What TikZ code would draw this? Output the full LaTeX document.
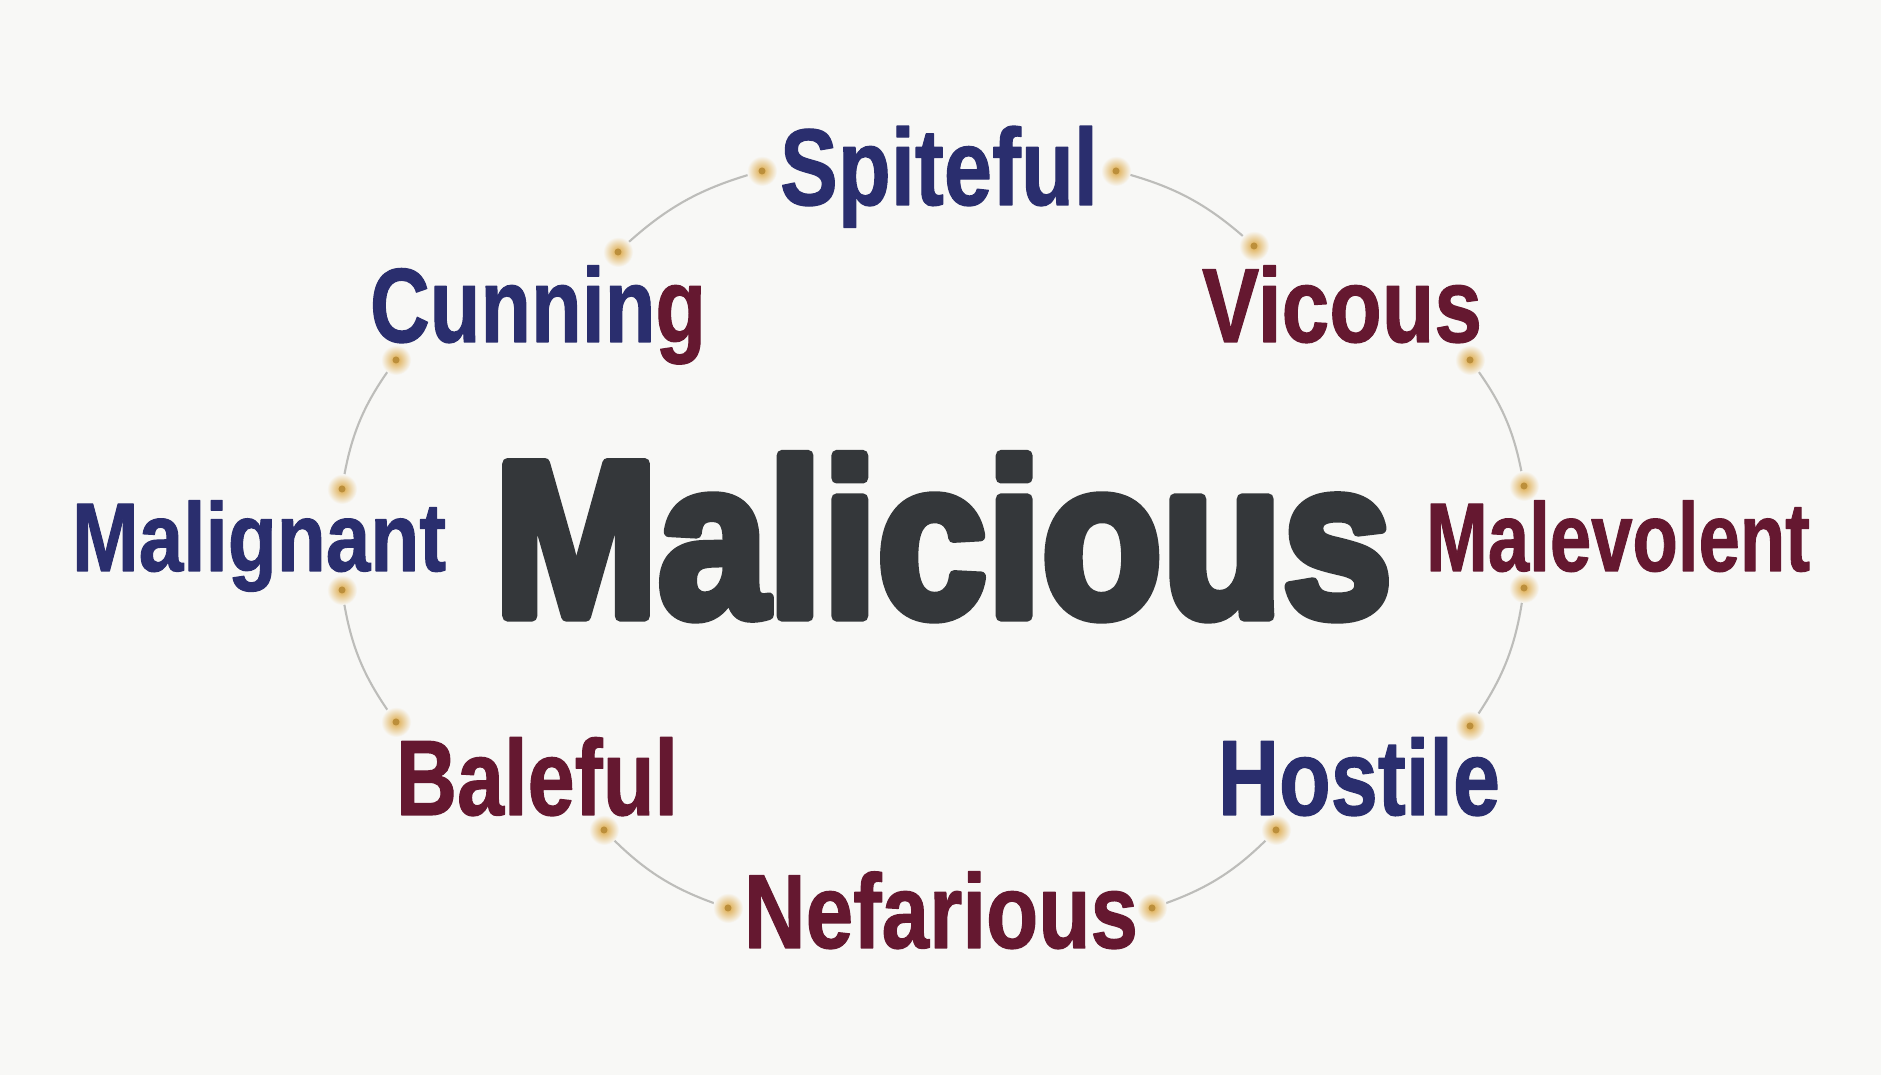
\documentclass[tikz,border=0pt]{standalone}
\usepackage{graphicx}
\usepackage{fontspec}
\usetikzlibrary{backgrounds}
\newfontfamily\wordfont{Liberation Sans}[BoldFeatures={FakeBold=1.2}]
\newfontfamily\headfont{Liberation Sans}[BoldFeatures={FakeBold=5}]
\definecolor{navyc}{HTML}{2A2E6E}
\definecolor{maroonc}{HTML}{651830}
\definecolor{inkc}{HTML}{34373A}
\definecolor{bgc}{HTML}{F8F8F6}
\definecolor{linec}{HTML}{BDBDBA}
\definecolor{sparkc}{HTML}{DDA845}
\newcommand\fitword[2]{\resizebox{#1}{\height}{#2}}

\begin{document}
\begin{tikzpicture}[
  word/.style={anchor=base, inner sep=0pt, line join=round, font=\wordfont\bfseries\fontsize{#1}{#1}\selectfont},
  navyword/.style={word=#1, text=navyc},
  redword/.style={word=#1, text=maroonc},
  spark/.style={circle, inner sep=0pt, minimum size=0.3cm, shading=radial,
    inner color=sparkc, outer color=bgc,
    path picture={\fill[sparkc!85!black] (path picture bounding box.center) circle (0.035);}},
  link/.style={draw=linec, line width=0.6pt}]
  \node[anchor=base, inner sep=0pt, text=inkc, line join=round, miter limit=1,
    font=\headfont\bfseries\fontsize{63}{63}\selectfont]
    (mal) at (9.43,4.59) {\fitword{8.98cm}{Malicious}};
  \node[navyword=31] (spiteful) at (9.39,8.70) {\fitword{3.18cm}{Spiteful}};
  \node[navyword=30] (cunning) at (5.38,7.33) {\fitword{3.36cm}{Cunnin\textcolor{maroonc}{g}}};
  \node[redword=30] (vicous) at (13.42,7.33) {\fitword{2.80cm}{Vicous}};
  \node[navyword=27.7] (malignant) at (2.59,5.04) {\fitword{3.74cm}{Malignant}};
  \node[redword=27.7] (malevolent) at (16.18,5.04) {\fitword{3.84cm}{Malevolent}};
  \node[redword=30.5] (baleful) at (5.37,2.60) {\fitword{2.82cm}{Baleful}};
  \node[navyword=30.5] (hostile) at (13.59,2.60) {\fitword{2.82cm}{Hostile}};
  \node[redword=30] (nefarious) at (9.41,1.27) {\fitword{3.94cm}{Nefarious}};

  \node[spark] (sp1) at (7.62,9.04) {};
  \node[spark] (sp2) at (11.16,9.04) {};
  \node[spark] (cu1) at (6.18,8.23) {};
  \node[spark] (vi1) at (12.54,8.29) {};
  \node[spark] (cu2) at (3.96,7.15) {};
  \node[spark] (vi2) at (14.70,7.15) {};
  \node[spark] (ma1) at (3.42,5.86) {};
  \node[spark] (mv1) at (15.24,5.89) {};
  \node[spark] (ma2) at (3.42,4.85) {};
  \node[spark] (mv2) at (15.24,4.87) {};
  \node[spark] (ba1) at (3.96,3.53) {};
  \node[spark] (ho1) at (14.70,3.49) {};
  \node[spark] (ba2) at (6.04,2.45) {};
  \node[spark] (ho2) at (12.76,2.45) {};
  \node[spark] (ne1) at (7.28,1.67) {};
  \node[spark] (ne2) at (11.52,1.67) {};

  \begin{scope}[on background layer]
    \fill[bgc] (0,0) rectangle (18.81,10.75);
    \foreach \u/\v in {sp1/cu1, cu2/ma1, ma2/ba1, ba2/ne1, ne2/ho2, ho1/mv2, mv1/vi2, vi1/sp2}
      \draw[link] (\u.center) to[bend right=14] (\v.center);
  \end{scope}
\end{tikzpicture}
\end{document}
